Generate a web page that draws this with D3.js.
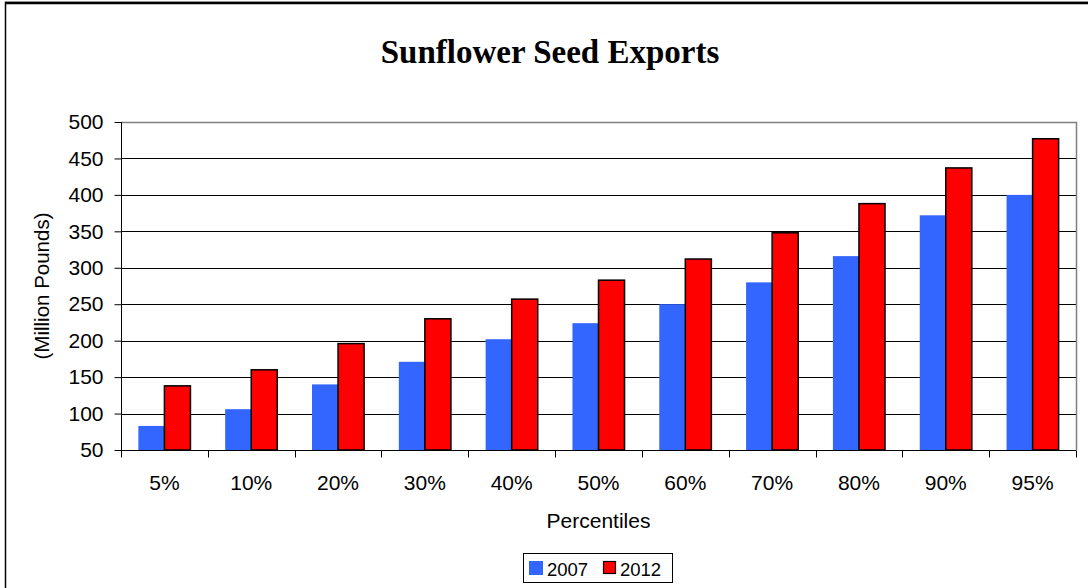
<!DOCTYPE html>
<html>
<head>
<meta charset="utf-8">
<script src="https://cdn.jsdelivr.net/npm/d3@7"></script>
<style>
  html, body { margin: 0; padding: 0; background: #fff; }
  svg { display: block; }
</style>
</head>
<body>
<svg id="chart" width="1088" height="588"></svg>
<script>
const categories = ["5%", "10%", "20%", "30%", "40%", "50%", "60%", "70%", "80%", "90%", "95%"];
const seriesNames = ["2007", "2012"];
const values2007 = [83, 106, 140, 171, 202, 224, 250, 280, 316, 372, 400];
const values2012 = [138, 160, 196, 230, 257, 283, 312, 348, 388, 437, 477];
const yTicks = [50, 100, 150, 200, 250, 300, 350, 400, 450, 500];
const colors = ["#3366FF", "#FF0000"];
const title = "Sunflower Seed Exports";
const yLabel = "(Million Pounds)";
const xLabel = "Percentiles";

const SANS = "'Liberation Sans', Arial, sans-serif";
const SERIF = "'Liberation Serif', 'Times New Roman', serif";

const svg = d3.select("#chart");
const plot = { left: 121, right: 1076, top: 122, bottom: 450 };

// outer chart border
svg.append("rect")
  .attr("x", 5.5).attr("y", 2.5)
  .attr("width", 1100).attr("height", 600)
  .attr("fill", "#fff").attr("stroke", "#000").attr("stroke-width", 1.5);
svg.append("line").attr("x1", 5).attr("x2", 1088).attr("y1", 3).attr("y2", 3)
  .attr("stroke", "#000").attr("stroke-width", 2.5);

const x = d3.scaleBand().domain(categories).range([plot.left, plot.right]).padding(0);
const y = d3.scaleLinear().domain([50, 500]).range([plot.bottom, plot.top]);

// gridlines
svg.append("g").selectAll("line").data(yTicks.filter(d => d > 50 && d < 500)).join("line")
  .attr("x1", plot.left).attr("x2", plot.right)
  .attr("y1", d => Math.round(y(d)) + 0.5).attr("y2", d => Math.round(y(d)) + 0.5)
  .attr("stroke", "#000").attr("stroke-width", 1);

// plot border top/right
svg.append("path")
  .attr("d", `M${plot.left},${Math.round(plot.top)+0.5}H${plot.right+0.5}V${plot.bottom}`)
  .attr("fill", "none").attr("stroke", "#808080").attr("stroke-width", 1.5);

// bars
const barW = x.bandwidth() * 0.3;
const series = [values2007, values2012];
series.forEach((vals, si) => {
  svg.append("g").selectAll("rect").data(categories).join("rect")
    .attr("x", (d) => x(d) + x.bandwidth() / 2 - barW + si * barW)
    .attr("y", (d, i) => y(vals[i]))
    .attr("width", barW)
    .attr("height", (d, i) => plot.bottom - y(vals[i]))
    .attr("fill", colors[si])
    .attr("stroke", si === 1 ? "#000" : "none")
    .attr("stroke-width", 1.5);
});

// y axis
const yAxis = d3.axisLeft(y).tickValues(yTicks).tickSize(7).tickPadding(11).tickFormat(d3.format("d"));
const gy = svg.append("g").attr("transform", `translate(${plot.left + 0.5},0)`).call(yAxis);
gy.select(".domain").attr("stroke", "#000").attr("d", `M0,${plot.top}V${plot.bottom}`);
gy.selectAll(".tick line").attr("stroke", "#000");
gy.selectAll(".tick text").attr("font-size", 21).attr("font-family", null)
  .style("font-family", SANS).attr("fill", "#000");

// x axis
const gx = svg.append("g").attr("transform", `translate(0,${Math.round(plot.bottom) + 0.5})`);
gx.append("line").attr("x1", plot.left).attr("x2", plot.right).attr("stroke", "#000");
const boundaries = categories.map(c => x(c)).concat([plot.right]);
gx.selectAll("line.tk").data(boundaries).join("line").attr("class", "tk")
  .attr("x1", d => Math.round(d) + 0.5).attr("x2", d => Math.round(d) + 0.5)
  .attr("y1", 0).attr("y2", 7).attr("stroke", "#000");
gx.selectAll("text").data(categories).join("text")
  .attr("x", d => x(d) + x.bandwidth() / 2)
  .attr("y", 39.5)
  .attr("text-anchor", "middle")
  .attr("font-size", 21)
  .style("font-family", SANS)
  .text(d => d);

// title
svg.append("text").attr("x", 550).attr("y", 63).attr("text-anchor", "middle")
  .style("font-family", SERIF)
  .attr("font-weight", "bold").attr("font-size", 33).text(title);

// y label
svg.append("text")
  .attr("transform", `translate(49,${(plot.top + plot.bottom) / 2}) rotate(-90)`)
  .attr("text-anchor", "middle").attr("font-size", 20.5).style("font-family", SANS).text(yLabel);

// x label
svg.append("text").attr("x", (plot.left + plot.right) / 2).attr("y", 528)
  .attr("text-anchor", "middle").attr("font-size", 21).style("font-family", SANS).text(xLabel);

// legend
const lg = svg.append("g");
lg.append("rect").attr("x", 523.5).attr("y", 553.5).attr("width", 149).attr("height", 29)
  .attr("fill", "#fff").attr("stroke", "#000").attr("stroke-width", 1);
const legendItems = [
  { name: seriesNames[0], color: colors[0], sx: 529, tx: 547, stroke: "none" },
  { name: seriesNames[1], color: colors[1], sx: 603.5, tx: 620, stroke: "#000" }
];
legendItems.forEach(it => {
  lg.append("rect").attr("x", it.sx).attr("y", it.stroke === "none" ? 561 : 561.5)
    .attr("width", it.stroke === "none" ? 14 : 12).attr("height", it.stroke === "none" ? 14 : 12)
    .attr("fill", it.color).attr("stroke", it.stroke).attr("stroke-width", 1.2);
  lg.append("text").attr("x", it.tx).attr("y", 576).attr("font-size", 18.5)
    .style("font-family", SANS).text(it.name);
});
</script>
</body>
</html>
